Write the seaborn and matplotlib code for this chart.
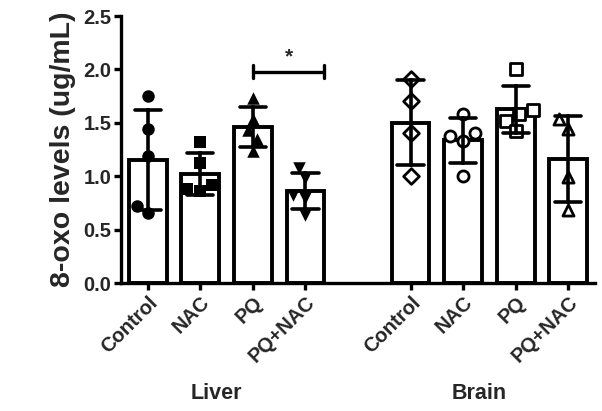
import numpy as np
import pandas as pd
import matplotlib
matplotlib.use("Agg")
import matplotlib.pyplot as plt
import seaborn as sns

# ---- data ----
tissues = ["Liver", "Brain"]
treatments = ["Control", "NAC", "PQ", "PQ+NAC"]
liver_control = [1.75, 1.44, 1.19, 0.66, 0.72]
liver_nac = [1.32, 1.12, 0.92, 0.88, 0.86]
liver_pq = [1.73, 1.54, 1.43, 1.35, 1.24]
liver_pqnac = [1.08, 0.98, 0.82, 0.80, 0.64]
brain_control = [1.91, 1.70, 1.40, 1.00]
brain_nac = [1.58, 1.40, 1.38, 1.33, 1.00]
brain_pq = [2.00, 1.62, 1.58, 1.52, 1.42]
brain_pqnac = [1.54, 1.44, 0.99, 0.68]
ytick_values = [0.0, 0.5, 1.0, 1.5, 2.0, 2.5]
ylabel = "8-oxo levels (ug/mL)"
sig_label = "*"
sig_level = 1.98

groups = {
    ("Liver", "Control"): liver_control,
    ("Liver", "NAC"): liver_nac,
    ("Liver", "PQ"): liver_pq,
    ("Liver", "PQ+NAC"): liver_pqnac,
    ("Brain", "Control"): brain_control,
    ("Brain", "NAC"): brain_nac,
    ("Brain", "PQ"): brain_pq,
    ("Brain", "PQ+NAC"): brain_pqnac,
}

rows = []
for (tis, trt), vals in groups.items():
    for v in vals:
        rows.append({"key": f"{tis}|{trt}", "tissue": tis, "treatment": trt, "value": v})
df = pd.DataFrame(rows)

order = [f"Liver|{t}" for t in treatments] + ["gap"] + [f"Brain|{t}" for t in treatments]

markers = {
    ("Liver", "Control"): ("o", True),
    ("Liver", "NAC"): ("s", True),
    ("Liver", "PQ"): ("^", True),
    ("Liver", "PQ+NAC"): ("v", True),
    ("Brain", "Control"): ("D", False),
    ("Brain", "NAC"): ("o", False),
    ("Brain", "PQ"): ("s", False),
    ("Brain", "PQ+NAC"): ("^", False),
}

sns.set_theme(style="ticks")
plt.rcParams["font.family"] = ["Liberation Sans", "DejaVu Sans"]
plt.rcParams["font.weight"] = "bold"

fig = plt.figure(figsize=(6.02, 4.11), dpi=100)
ax = fig.add_axes([121 / 602, 1 - 283 / 411, 474 / 602, 267 / 411])

sns.barplot(data=df, x="key", y="value", order=order, ax=ax,
            color="white", edgecolor="black", linewidth=2.8, width=0.72,
            errorbar="sd", capsize=0.5,
            err_kws={"color": "black", "linewidth": 2.6, "zorder": 4})

for (tis, trt), (m, filled) in markers.items():
    sub = df[(df.tissue == tis) & (df.treatment == trt)]
    if filled:
        sns.swarmplot(data=sub, x="key", y="value", order=order, ax=ax,
                      marker=m, color="black", size=9, zorder=3)
    else:
        sns.swarmplot(data=sub, x="key", y="value", order=order, ax=ax,
                      marker=m, color="white", edgecolor="black",
                      linewidth=2.0, size=8, zorder=3)

ax.set_ylim(0, 2.5)
ax.set_xlim(-0.51, 8.51)
ax.set_yticks(ytick_values)
ax.set_yticklabels([f"{v:.1f}" for v in ytick_values], fontsize=14.5, fontweight="bold")

tick_pos = [order.index(k) for k in order if k != "gap"]
tick_lab = [k.split("|")[1] for k in order if k != "gap"]
ax.set_xticks(tick_pos)
ax.set_xticklabels(tick_lab, rotation=45, ha="right", rotation_mode="anchor",
                   fontsize=14.5, fontweight="bold")
ax.set_xlabel("")
ax.set_ylabel(ylabel, fontsize=20.5, fontweight="bold", labelpad=5)

for side in ["top", "right"]:
    ax.spines[side].set_visible(False)
for side in ["left", "bottom"]:
    ax.spines[side].set_linewidth(2.4)
    ax.spines[side].set_color("black")
ax.tick_params(axis="both", width=2.4, length=5, color="black", pad=2)

# tissue group labels
for tis in tissues:
    idx = [order.index(f"{tis}|{t}") for t in treatments]
    ax.text(np.mean(idx) - 0.2, -0.415, tis, transform=ax.get_xaxis_transform(),
            ha="center", va="center", fontsize=15.5, fontweight="bold")

# significance bracket: Liver PQ vs Liver PQ+NAC
x1 = order.index("Liver|PQ")
x2 = order.index("Liver|PQ+NAC") + 0.36
ax.plot([x1, x2], [sig_level, sig_level], color="black", lw=2.4, solid_capstyle="butt")
for xx in (x1, x2):
    ax.plot([xx, xx], [sig_level - 0.06, sig_level + 0.06], color="black", lw=2.4)
ax.text((x1 + x2) / 2, sig_level + 0.05, sig_label, ha="center", va="bottom",
        fontsize=15, fontweight="bold")

fig.savefig("out.png", dpi=100)
